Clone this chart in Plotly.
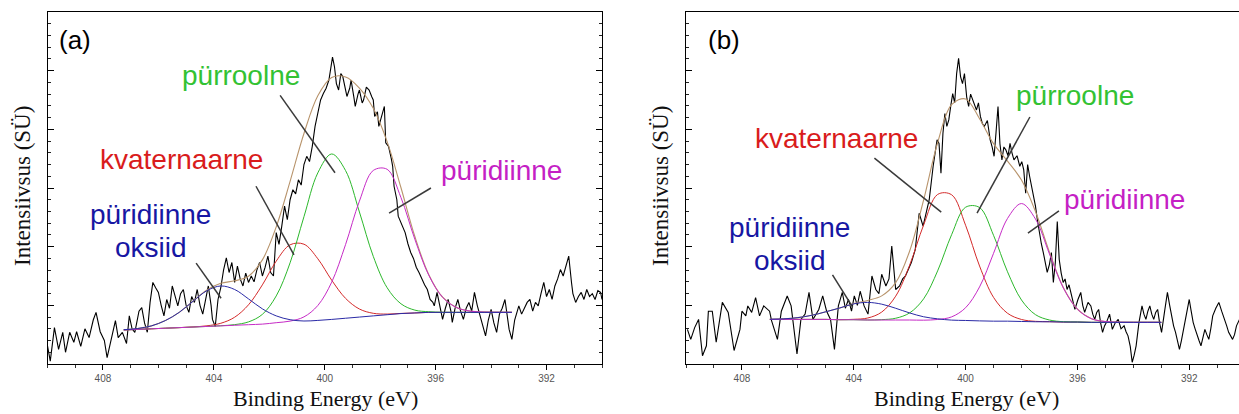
import plotly.graph_objects as go

# ---------------- data ----------------
tick_vals = [408, 404, 400, 396, 392]

# panel (a) raw spectrum
a_energy = [410.0, 409.9, 409.75, 409.6, 409.45, 409.35, 409.2, 409.05, 408.95, 408.8, 408.65, 408.5, 408.35, 408.25,
            408.1, 407.95, 407.85, 407.7, 407.55, 407.45, 407.3, 407.15, 407.05, 406.95, 406.85, 406.7, 406.6, 406.5,
            406.4, 406.3, 406.2, 406.1, 406.0, 405.9, 405.8, 405.7, 405.6, 405.5, 405.4, 405.3, 405.2, 405.1, 405.0,
            404.9, 404.8, 404.7, 404.6, 404.5, 404.4, 404.3, 404.2, 404.1, 404.05, 403.95, 403.85, 403.75, 403.65,
            403.55, 403.45, 403.35, 403.25, 403.15, 403.05, 402.95, 402.85, 402.75, 402.65, 402.55, 402.45, 402.35,
            402.25, 402.15, 402.05, 401.95, 401.85, 401.75, 401.65, 401.55, 401.45, 401.35, 401.25, 401.15, 401.05,
            400.95, 400.85, 400.75, 400.65, 400.55, 400.45, 400.35, 400.25, 400.15, 400.05, 399.95, 399.85, 399.8,
            399.72, 399.65, 399.58, 399.5, 399.42, 399.35, 399.25, 399.2, 399.1, 399.05, 398.95, 398.9, 398.8, 398.75,
            398.65, 398.6, 398.5, 398.4, 398.3, 398.25, 398.2, 398.1, 398.05, 397.95, 397.85, 397.8, 397.7, 397.6,
            397.55, 397.5, 397.4, 397.35, 397.25, 397.1, 397.0, 396.9, 396.8, 396.7, 396.6, 396.5, 396.4, 396.3, 396.2,
            396.1, 396.05, 395.95, 395.85, 395.75, 395.65, 395.55, 395.45, 395.4, 395.3, 395.2, 395.1, 395.0, 394.9,
            394.8, 394.7, 394.6, 394.5, 394.4, 394.3, 394.2, 394.1, 394.0, 393.9, 393.8, 393.7, 393.6, 393.5, 393.4,
            393.35, 393.25, 393.15, 393.0, 392.9, 392.8, 392.7, 392.6, 392.5, 392.4, 392.3, 392.2, 392.1, 392.0, 391.9,
            391.8, 391.7, 391.6, 391.5, 391.4, 391.3, 391.2, 391.1, 391.05, 390.95, 390.85, 390.75, 390.65, 390.55,
            390.45, 390.35, 390.25, 390.15, 390.05, 390.0]
a_counts = [0.31, 0.05, 0.62, 0.25, 0.54, 0.20, 0.54, 0.37, 0.55, 0.30, 0.60, 0.45, 0.75, 0.88,
            0.55, 0.40, 0.11, 0.45, 0.74, 0.45, 0.54, 0.35, 0.82, 0.60, 0.54, 0.90, 0.96, 0.70,
            0.54, 1.05, 1.39, 1.30, 1.22, 1.00, 0.82, 1.10, 0.95, 1.33, 1.15, 0.99, 1.20, 1.27, 1.00,
            0.88, 1.15, 1.05, 1.27, 1.00, 0.85, 1.10, 1.33, 1.00, 0.76, 0.64, 1.10, 1.30, 1.60,
            1.81, 1.56, 1.73, 1.39, 1.67, 1.45, 1.33, 1.55, 1.39, 1.50, 1.40, 1.60, 1.73,
            1.50, 1.65, 1.84, 1.56, 1.50, 2.24, 2.04, 2.35, 2.69, 2.46, 2.80, 2.97, 2.90,
            3.14, 3.05, 3.40, 3.54, 3.45, 3.71, 4.05, 4.30, 4.50, 4.61, 4.70, 4.84, 5.01,
            5.23, 5.07, 4.78, 4.67, 4.95, 4.90, 4.70, 4.56, 4.70, 4.84, 4.55, 4.39, 4.60, 4.67,
            4.45, 4.50, 4.72, 4.67, 4.55, 4.50, 4.22, 4.30, 4.05, 4.20, 4.39, 3.77, 3.71, 3.50,
            3.37, 3.03, 2.80, 2.52, 2.40, 2.24, 2.05, 1.90, 1.80, 1.65, 1.56, 1.45, 1.35, 1.27, 1.10,
            1.05, 0.99, 1.22, 1.00, 0.76, 0.95, 1.10, 0.90, 0.71, 0.95, 1.10, 0.90, 0.76, 0.95,
            1.05, 0.90, 1.22, 1.00, 0.82, 0.65, 0.48, 0.75, 0.93, 0.70, 0.54, 0.85, 0.95, 1.10, 0.80,
            0.59, 0.42, 0.75, 0.99, 0.85, 0.95, 1.05, 1.10, 0.90, 1.05, 0.99, 1.20, 1.39, 1.15, 1.27,
            1.10, 1.33, 1.45, 1.61, 1.50, 1.65, 1.84, 1.39, 1.20, 1.05, 1.15, 1.22, 1.10, 1.27,
            1.15, 1.20, 1.10, 1.25, 1.22, 1.10]

# panel (a) fitted components (height above background)
a_fit_energy = [407.25, 406.75, 406.25, 405.75, 405.25, 404.75, 404.25, 403.75, 403.25, 402.75, 402.25, 401.75,
                401.25, 400.75, 400.25, 399.75, 399.25, 398.75, 398.25, 397.75, 397.25, 396.75, 396.25, 395.75,
                395.25, 394.75, 394.25, 393.75, 393.25]
a_background = [0.58, 0.59, 0.60, 0.61, 0.62, 0.63, 0.64, 0.65, 0.66, 0.67, 0.68, 0.70, 0.71, 0.72, 0.74, 0.76,
                0.78, 0.80, 0.82, 0.84, 0.86, 0.87, 0.88, 0.88, 0.88, 0.88, 0.88, 0.88, 0.88]
a_oxide = [0.005, 0.015, 0.05, 0.13, 0.26, 0.44, 0.61, 0.68, 0.61, 0.44, 0.26, 0.12, 0.045, 0.013, 0.003,
           0, 0, 0, 0, 0, 0, 0, 0, 0, 0, 0, 0, 0, 0]
a_quaternary = [0, 0, 0, 0, 0, 0.002, 0.011, 0.044, 0.137, 0.339, 0.669, 1.054, 1.322, 1.322, 1.054, 0.669,
                0.339, 0.137, 0.044, 0.011, 0.002, 0, 0, 0, 0, 0, 0, 0, 0]
a_pyrrolic = [0, 0, 0, 0, 0, 0, 0, 0.002, 0.011, 0.048, 0.166, 0.460, 1.015, 1.791, 2.518, 2.82, 2.518, 1.791,
              1.015, 0.460, 0.166, 0.048, 0.011, 0.002, 0, 0, 0, 0, 0]
a_pyridinic = [0, 0, 0, 0, 0, 0, 0, 0, 0, 0, 0, 0.004, 0.021, 0.083, 0.257, 0.635, 1.255, 1.976, 2.479, 2.479,
               1.976, 1.255, 0.635, 0.257, 0.083, 0.021, 0.004, 0.001, 0]

# panel (b) raw spectrum
b_energy = [409.95, 409.83, 409.69, 409.55, 409.41, 409.27, 409.2, 409.06, 408.92, 408.7, 408.49, 408.28, 408.07,
            408.0, 407.86, 407.79, 407.65, 407.51, 407.37, 407.22, 407.01, 406.94, 406.73, 406.59, 406.38, 406.24,
            406.03, 405.89, 405.74, 405.6, 405.46, 405.25, 405.11, 404.97, 404.83, 404.69, 404.55, 404.41, 404.3,
            404.19, 404.08, 403.98, 403.87, 403.77, 403.63, 403.49, 403.35, 403.21, 403.1, 403.0, 402.85, 402.74,
            402.64, 402.5, 402.36, 402.25, 402.15, 402.05, 401.94, 401.8, 401.73, 401.66, 401.52, 401.37, 401.3,
            401.16, 401.02, 400.95, 400.88, 400.81, 400.74, 400.67, 400.6, 400.53, 400.46, 400.39, 400.32, 400.25,
            400.18, 400.11, 400.04, 399.96, 399.89, 399.82, 399.75, 399.68, 399.61, 399.54, 399.47, 399.4, 399.33,
            399.22, 399.12, 399.05, 398.98, 398.91, 398.84, 398.77, 398.7, 398.63, 398.56, 398.48, 398.41, 398.34,
            398.27, 398.16, 398.06, 397.99, 397.92, 397.85, 397.78, 397.71, 397.64, 397.57, 397.5, 397.43, 397.36,
            397.29, 397.22, 397.15, 397.08, 397.0, 396.93, 396.86, 396.79, 396.72, 396.65, 396.58, 396.51, 396.44,
            396.37, 396.3, 396.23, 396.16, 396.09, 395.98, 395.88, 395.81, 395.74, 395.62, 395.52, 395.45, 395.38,
            395.31, 395.24, 395.17, 395.1, 395.03, 394.96, 394.85, 394.75, 394.65, 394.54, 394.44, 394.33, 394.26,
            394.19, 394.11, 394.04, 393.97, 393.9, 393.8, 393.69, 393.62, 393.55, 393.48, 393.41, 393.34, 393.27,
            393.2, 393.13, 393.06, 392.99, 392.88, 392.78, 392.7, 392.63, 392.56, 392.49, 392.42, 392.35, 392.28,
            392.21, 392.1, 392.0, 391.93, 391.86, 391.79, 391.72, 391.65, 391.58, 391.51, 391.44, 391.37, 391.3,
            391.23, 391.16, 391.05, 390.94, 390.84, 390.73, 390.66, 390.59, 390.52, 390.45, 390.38, 390.31, 390.2]
b_counts = [0.59, 0.42, 0.62, 0.76, 0.14, 0.31, 0.90, 0.90, 0.37, 1.05, 0.88, 0.23, 0.59,
            0.90, 0.82, 0.99, 0.88, 1.13, 0.82, 0.99, 0.90, 0.74, 0.42, 0.90, 1.16, 0.99,
            0.17, 0.76, 0.85, 1.22, 0.76, 0.93, 1.16, 0.90, 0.76, 0.25, 0.99, 1.22, 0.95,
            1.10, 0.90, 1.16, 1.00, 1.24, 0.99, 0.85, 1.50, 1.27, 1.20, 1.53, 1.33, 1.45,
            2.01, 1.27, 1.33, 1.45, 1.50, 1.62, 1.73, 1.95, 2.30, 2.57, 2.35, 2.69, 2.80,
            3.37, 3.82, 3.76, 3.25, 3.93, 4.27, 4.05, 4.16, 4.40, 4.61, 4.45, 4.95, 5.21,
            4.90, 4.78, 4.95, 4.55, 4.39, 4.60, 4.50, 4.40, 4.33, 4.45, 4.22, 4.10, 4.05,
            4.15, 3.82, 3.70, 3.54, 3.95, 4.39, 3.75, 3.48, 3.70, 3.65, 3.55, 3.76, 3.60,
            3.48, 3.55, 3.37, 3.45, 3.31, 2.91, 3.40, 3.20, 3.03, 2.90, 2.69, 2.45, 2.24,
            2.05, 1.90, 1.75, 1.56, 1.70, 1.90, 1.39, 1.73, 2.43, 1.78, 1.55, 1.39, 1.45,
            1.27, 1.35, 1.22, 1.05, 0.93, 1.10, 1.22, 1.00, 0.88, 1.05, 0.99, 0.85, 0.76,
            0.88, 0.93, 0.70, 0.54, 0.65, 0.71, 0.85, 0.59, 0.70, 0.76, 0.60, 0.65, 0.55,
            0.48, 0.30, 0.03, 0.15, 0.31, 0.70, 0.99, 0.85, 0.76, 0.90, 0.99, 0.85, 0.76,
            0.88, 0.93, 0.70, 0.54, 0.90, 1.22, 1.00, 0.82, 0.65, 0.54, 0.40, 0.25, 0.40,
            0.59, 0.90, 1.10, 0.90, 0.71, 0.60, 0.48, 0.40, 0.31, 0.45, 0.59, 0.50, 0.42,
            0.60, 0.82, 0.95, 1.05, 0.90, 0.76, 0.65, 0.54, 0.48, 0.42, 0.50, 0.65, 0.76]

# panel (b) fitted components (height above background)
b_fit_energy = [407.0, 406.5, 406.0, 405.5, 405.0, 404.5, 404.0, 403.5, 403.0, 402.5, 402.0, 401.5, 401.0, 400.5,
                400.0, 399.5, 399.0, 398.5, 398.0, 397.5, 397.0, 396.5, 396.0, 395.5, 395.0, 394.5, 394.0, 393.5,
                393.0]
b_background = [0.76, 0.76, 0.76, 0.76, 0.76, 0.755, 0.755, 0.75, 0.75, 0.75, 0.75, 0.745, 0.745, 0.74, 0.74,
                0.735, 0.73, 0.73, 0.725, 0.72, 0.72, 0.715, 0.715, 0.71, 0.71, 0.71, 0.71, 0.71, 0.71]
b_oxide = [0.003, 0.01, 0.03, 0.07, 0.13, 0.20, 0.27, 0.30, 0.27, 0.20, 0.12, 0.06, 0.025, 0.008, 0.002,
           0, 0, 0, 0, 0, 0, 0, 0, 0, 0, 0, 0, 0, 0]
b_quaternary = [0, 0, 0, 0, 0, 0.001, 0.007, 0.034, 0.135, 0.406, 0.935, 1.625, 2.145, 2.145, 1.625, 0.935,
                0.406, 0.135, 0.034, 0.007, 0.001, 0, 0, 0, 0, 0, 0, 0, 0]
b_pyrrolic = [0, 0, 0, 0, 0, 0, 0, 0, 0.006, 0.030, 0.121, 0.366, 0.842, 1.464, 1.932, 1.932, 1.464, 0.842,
              0.366, 0.121, 0.030, 0.006, 0.001, 0, 0, 0, 0, 0, 0]
b_pyridinic = [0, 0, 0, 0, 0, 0, 0, 0, 0, 0, 0, 0.002, 0.014, 0.063, 0.219, 0.579, 1.156, 1.751, 2.01, 1.751,
               1.156, 0.579, 0.219, 0.063, 0.014, 0.002, 0, 0, 0]

# ---------------- styling ----------------
W, H = 1239, 414
C_RED, C_GREEN, C_MAG, C_BLUE, C_ENV = "#d42a2a", "#2cb82c", "#c62bc6", "#2a2aa6", "#b8946c"
T_RED, T_GREEN, T_MAG, T_BLUE = "#d91c1c", "#33c233", "#c51fc5", "#1717a3"
LABEL_FONT = "Liberation Sans, Arial, sans-serif"
SERIF = "Liberation Serif, Times New Roman, serif"


def add_panel(fig, xr, yr, energy, counts, fx, bg, oxide, quat, pyrr, pyrid):
    fig.add_trace(go.Scatter(x=energy, y=counts, mode="lines", line=dict(color="black", width=1.1),
                             xaxis=xr, yaxis=yr, showlegend=False, hoverinfo="skip"))
    env = [b + o + q + p + d for b, o, q, p, d in zip(bg, oxide, quat, pyrr, pyrid)]
    fig.add_trace(go.Scatter(x=fx, y=env, mode="lines", line=dict(color=C_ENV, width=1.1, shape="spline"),
                             xaxis=xr, yaxis=yr, showlegend=False, hoverinfo="skip"))
    for comp, col in ((quat, C_RED), (pyrr, C_GREEN), (pyrid, C_MAG), (oxide, C_BLUE)):
        fig.add_trace(go.Scatter(x=fx, y=[b + c for b, c in zip(bg, comp)], mode="lines",
                                 line=dict(color=col, width=1, shape="spline"),
                                 xaxis=xr, yaxis=yr, showlegend=False, hoverinfo="skip"))


fig = go.Figure()
add_panel(fig, "x", "y", a_energy, a_counts, a_fit_energy, a_background, a_oxide, a_quaternary, a_pyrrolic, a_pyridinic)
add_panel(fig, "x2", "y2", b_energy, b_counts, b_fit_energy, b_background, b_oxide, b_quaternary, b_pyrrolic, b_pyridinic)

y_dom = [50 / H, 402 / H]
xcommon = dict(tickmode="array", tickvals=tick_vals, ticktext=[str(v) for v in tick_vals],
               ticks="outside", ticklen=5, tickwidth=1, tickcolor="black",
               minor=dict(dtick=1, tick0=0, ticks="outside", ticklen=3, tickcolor="#333"),
               showline=True, linecolor="black", linewidth=1, mirror=True,
               showgrid=False, zeroline=False,
               tickfont=dict(family="Liberation Sans, Arial, sans-serif", size=10, color="#555"))
ycommon = dict(range=[0, 6], tickmode="array", tickvals=[1, 2, 3, 4, 5], showticklabels=False,
               ticks="inside", ticklen=6, tickwidth=1, tickcolor="black",
               minor=dict(dtick=0.2, tick0=0, ticks="inside", ticklen=3, tickcolor="#222"),
               showline=True, linecolor="black", linewidth=1,
               showgrid=False, zeroline=False, domain=y_dom)

fig.update_layout(
    width=W, height=H, margin=dict(l=0, r=0, t=0, b=0),
    paper_bgcolor="white", plot_bgcolor="white",
    xaxis=dict(domain=[47.5 / W, 602 / W], range=[410, 390], anchor="y", **xcommon),
    yaxis=dict(anchor="x", mirror="ticks", **ycommon),
    xaxis2=dict(domain=[686 / W, 1.0], range=[410, 390.22], anchor="y2", **xcommon),
    yaxis2=dict(anchor="x2", mirror=False, **ycommon),
)

ann = []
# axis titles
for xc in (325, 966):
    ann.append(dict(text="Binding Energy (eV)", xref="paper", yref="paper", x=xc / W, y=(H - 398) / H,
                    xanchor="center", yanchor="middle", showarrow=False,
                    font=dict(family=SERIF, size=22, color="#111")))
for xc in (22, 660):
    ann.append(dict(text="Intensiivsus (SÜ)", xref="paper", yref="paper", x=xc / W, y=(H - 186) / H,
                    textangle=-90, xanchor="center", yanchor="middle", showarrow=False,
                    font=dict(family=SERIF, size=23, color="#111")))

# panel letters
ann.append(dict(text="(a)", xref="x", yref="y", x=409.66, y=5.52, xanchor="left", yanchor="middle",
                showarrow=False, font=dict(family=LABEL_FONT, size=26, color="black")))
ann.append(dict(text="(b)", xref="x2", yref="y2", x=409.29, y=5.52, xanchor="left", yanchor="middle",
                showarrow=False, font=dict(family=LABEL_FONT, size=26, color="black")))

# peak labels: (text, colour, x, y, axis suffix)
labels = [
    ("pürroolne", T_GREEN, 403.02, 4.91, ""),
    ("kvaternaarne", T_RED, 405.15, 3.49, ""),
    ("püridiinne", T_MAG, 393.64, 3.29, ""),
    ("püridiinne", T_BLUE, 406.27, 2.54, ""),
    ("oksiid", T_BLUE, 406.27, 1.99, ""),
    ("pürroolne", T_GREEN, 396.09, 4.58, "2"),
    ("kvaternaarne", T_RED, 404.61, 3.85, "2"),
    ("püridiinne", T_MAG, 394.31, 2.80, "2"),
    ("püridiinne", T_BLUE, 406.29, 2.32, "2"),
    ("oksiid", T_BLUE, 406.29, 1.76, "2"),
]
for text, col, x, y, s in labels:
    ann.append(dict(text=text, xref="x" + s, yref="y" + s, x=x, y=y, xanchor="center", yanchor="middle",
                    showarrow=False, font=dict(family=LABEL_FONT, size=28, color=col)))
fig.update_layout(annotations=ann)

# leader lines
leaders = [
    (401.61, 4.58, 399.63, 3.26, ""),
    (402.48, 3.03, 401.11, 1.86, ""),
    (396.17, 3.00, 397.68, 2.57, ""),
    (404.64, 1.72, 403.74, 1.12, ""),
    (403.26, 3.51, 400.87, 2.59, "2"),
    (397.70, 4.21, 399.59, 2.57, "2"),
    (396.66, 2.61, 397.77, 2.23, "2"),
    (404.76, 1.52, 404.04, 0.97, "2"),
]
for x0, y0, x1, y1, s in leaders:
    fig.add_shape(type="line", xref="x" + s, yref="y" + s, x0=x0, y0=y0, x1=x1, y1=y1,
                  line=dict(color="#3a3a3a", width=1.5))

fig.write_html("out.html", config={"displayModeBar": False, "staticPlot": True},
               post_script="document.body.style.margin='0';document.body.style.overflow='hidden';")
